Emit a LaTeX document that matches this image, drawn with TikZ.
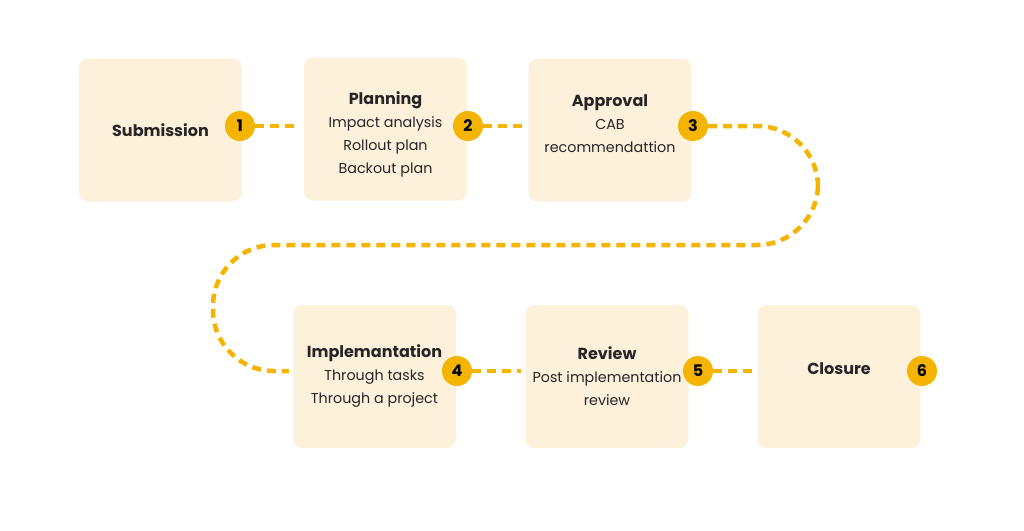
\documentclass[tikz,border=0pt]{standalone}
\usepackage{fontspec}
\setmainfont{Poppins}
\usepackage{xcolor}
\usepackage{tikz}
\usetikzlibrary{
    positioning,
    calc
}
\definecolor{stagecream}{HTML}{FEF1DC}
\definecolor{stagegold}{HTML}{F4B400}
\newcommand{\stagetitle}[1]{{\fontsize{16}{23}\selectfont\bfseries #1}}
\tikzset{
    stage/.style={
        fill=stagecream,
        rounded corners=9pt,
        minimum width=163pt,
        minimum height=143pt,
        align=center,
        font=\fontsize{14.3}{23}\selectfont,
        text=black!85
    }
}
\tikzset{
    stagetext/.style={
        align=center,
        font=\fontsize{14.3}{23}\selectfont,
        text=black!85
    }
}
\tikzset{
    stepnum/.style={
        circle,
        fill=stagegold,
        minimum size=30pt,
        inner sep=0pt,
        font=\fontsize{16}{16}\selectfont\bfseries
    }
}
\tikzset{
    flowline/.style={
        draw=stagegold,
        line width=4.5pt,
        dash pattern=on 9pt off 6pt,
        shorten >=4pt
    }
}

\begin{document}
\begin{tikzpicture}[
    x=1pt,
    y=-1pt
]
\useasboundingbox (0,0) rectangle (1024,530);

% ------------------------------------------------------------
% Top row: submission, planning, approval
% ------------------------------------------------------------

\node[stage] (sub) at (160.5,130) {\stagetitle{Submission}};
\node[stage] (plan) at (385.5,129) {};
\node[stagetext] (plantext) at ($(plan.center)+(0,5)$)
    {\stagetitle{Planning}\\Impact analysis\\Rollout plan\\Backout plan};
\node[stage] (appr) at (610,130) {\stagetitle{Approval}\\CAB\\recommendattion\\[-11pt]};

\node[stepnum] (n1) at (240,126) {1};
\node[stepnum] (n2) at (468,126) {2};
\node[stepnum] (n3) at (693,126) {3};

% ------------------------------------------------------------
% Bottom row: implementation, review, closure
% ------------------------------------------------------------

\node[stage] (impl) at (374.5,376.5) {\stagetitle{Implemantation}\\Through tasks\\Through a project};
\node[stage] (rev) at (607,376.5) {\stagetitle{Review}\\Post implementation\\review};
\node[stage] (clos) at (839,376.5) {\stagetitle{Closure}\\[-8pt]};

\node[stepnum] (n4) at (457,371) {4};
\node[stepnum] (n5) at (698,371) {5};
\node[stepnum] (n6) at (922,371) {6};

% dashed connectors
\draw[flowline] (n1.east) -- (n1 -| plan.west);
\draw[flowline] (n2.east) -- (n2 -| appr.west);
\draw[flowline, rounded corners=61pt] (n3.east) -- (818,126) -- (818,245)
    -- (213,245) -- (213,371) -- (n4 -| impl.west);
\draw[flowline] (n4.east) -- (n4 -| rev.west);
\draw[flowline] (n5.east) -- (n5 -| clos.west);

\end{tikzpicture}
\end{document}
